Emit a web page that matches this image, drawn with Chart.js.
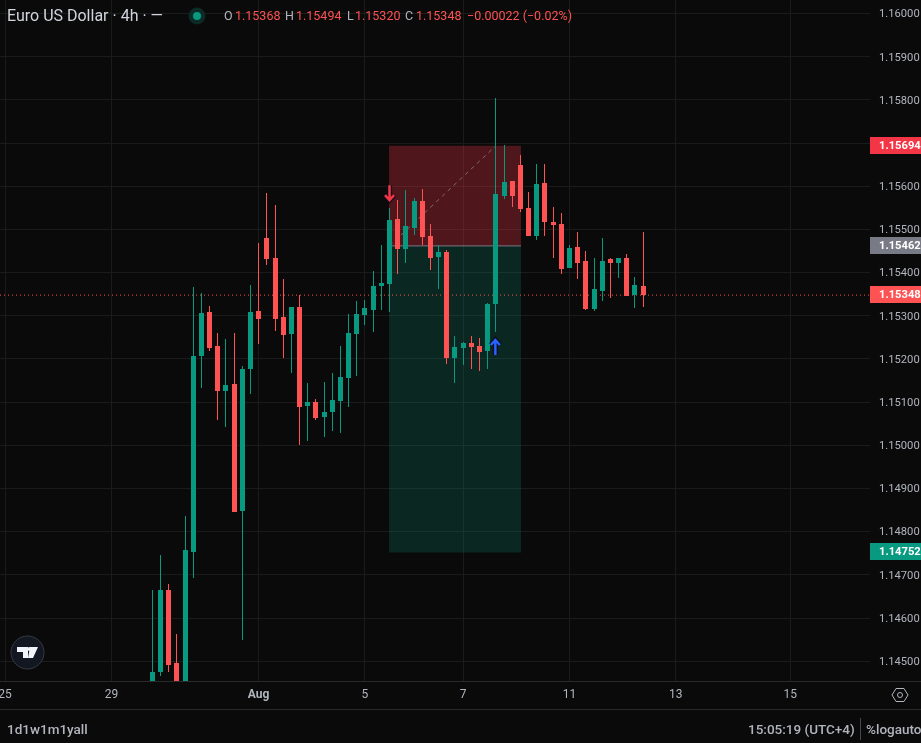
<!DOCTYPE html>
<html>
<head>
<meta charset="utf-8">
<title>Euro US Dollar 4h</title>
<script src="https://cdn.jsdelivr.net/npm/chart.js@4/dist/chart.umd.min.js"></script>
<style>
  html, body { margin: 0; padding: 0; background: #0a0a0a; overflow: hidden; }
  #wrap { position: relative; width: 921px; height: 743px; overflow: hidden; font-family: Roboto, "Noto Sans", sans-serif; }
  canvas { position: absolute; left: 0; top: 0; }
  .txt { position: absolute; white-space: nowrap; line-height: 16px; }
  .title { font-size: 16px; color: #d1d4dc; top: 8px; }
  .ohlc { font-size: 12.5px; top: 8px; }
  .k { color: #b2b5be; }
  .v { color: #ff5252; }
  .foot { font-size: 13.5px; font-weight: 500; color: #b2b5be; top: 721px; }
  .line { position: absolute; left: 0; width: 921px; height: 1px; background: #2a2a2a; }
  svg { position: absolute; }
</style>
</head>
<body>
<div id="wrap">
  <canvas id="chart" width="921" height="743"></canvas>
  <div class="line" style="top:681px"></div>
  <div class="line" style="top:709px"></div>

  <span class="txt title" style="left:7px">Euro US Dollar · 4h · —</span>
  <svg style="left:187px;top:6px" width="20" height="20">
    <circle cx="10" cy="10" r="8.5" fill="#0c2a26"></circle>
    <circle cx="10" cy="10" r="4" fill="#089981"></circle>
  </svg>
  <span class="txt ohlc k" style="left:224px">O</span><span class="txt ohlc v" style="left:235px">1.15368</span>
  <span class="txt ohlc k" style="left:285px">H</span><span class="txt ohlc v" style="left:296px">1.15494</span>
  <span class="txt ohlc k" style="left:347px">L</span><span class="txt ohlc v" style="left:355px">1.15320</span>
  <span class="txt ohlc k" style="left:405px">C</span><span class="txt ohlc v" style="left:416px">1.15348</span>
  <span class="txt ohlc v" style="left:467px">−0.00022 (−0.02%)</span>

  <svg style="left:10px;top:635px" width="36" height="36" viewBox="0 0 36 36">
    <circle cx="17.5" cy="17.5" r="16.5" fill="#131722" stroke="#363a45"></circle>
    <path d="M7 12h11v11h-5v-6H7zM20 12h8l-5 11h-5z" fill="#f0f3fa"></path>
    <circle cx="19.5" cy="14" r="2" fill="#f0f3fa"></circle>
  </svg>

  <svg style="left:890px;top:685px" width="20" height="20" viewBox="0 0 20 20">
    <path d="M6 3.5h8l4 6.5-4 6.5H6L2 10z" fill="none" stroke="#b2b5be" stroke-width="1"></path>
    <circle cx="10" cy="10" r="2.5" fill="none" stroke="#b2b5be" stroke-width="1"></circle>
  </svg>

  <span class="txt foot" style="left:7px">1d1w1m1yall</span>
  <span class="txt foot" style="left:748px">15:05:19 (UTC+4)</span>
  <div style="position:absolute;left:860px;top:718px;width:1px;height:22px;background:#434651"></div>
  <span class="txt foot" style="left:866px">%logauto</span>
</div>

<script>
// 4h candles (first visible candle is bar 0)
var opens  = [1.14433,1.14475,1.14665,1.14496,1.14433,1.14753,1.15207,1.15309,1.15230,1.15126,
              1.15142,1.14848,1.15177,1.15311,1.15480,1.15434,1.15297,1.15258,1.15320,1.15091,
              1.15100,1.15066,1.15077,1.15103,1.15156,1.15258,1.15302,1.15313,1.15369,1.15374,
              1.15524,1.15455,1.15503,1.15566,1.15485,1.15436,1.15448,1.15202,1.15225,1.15237,
              1.15230,1.15218,1.15327,1.15578,1.15612,1.15649,1.15550,1.15485,1.15608,1.15517,
              1.15513,1.15411,1.15459,1.15427,1.15316,1.15357,1.15432,1.15422,1.15434,1.15348,1.15368];
var highs  = [1.14665,1.14746,1.14679,1.14563,1.14836,1.15367,1.15353,1.15323,1.15260,1.15246,
              1.15260,1.15184,1.15371,1.15469,1.15584,1.15557,1.15385,1.15320,1.15348,1.15144,
              1.15107,1.15147,1.15168,1.15230,1.15304,1.15334,1.15337,1.15404,1.15464,1.15550,
              1.15568,1.15591,1.15573,1.15594,1.15513,1.15464,1.15452,1.15253,1.15239,1.15253,
              1.15249,1.15330,1.15805,1.15696,1.15612,1.15672,1.15587,1.15652,1.15652,1.15552,
              1.15538,1.15464,1.15494,1.15450,1.15434,1.15480,1.15434,1.15434,1.15443,1.15390,1.15494];
var lows   = [1.14410,1.14466,1.14475,1.14410,1.14410,1.14693,1.15133,1.15218,1.15059,1.15042,
              1.14846,1.14549,1.15119,1.15235,1.15418,1.15265,1.15202,1.15168,1.15001,1.15010,
              1.15059,1.15019,1.15033,1.15029,1.15089,1.15161,1.15279,1.15262,1.15313,1.15309,
              1.15397,1.15422,1.15487,1.15464,1.15406,1.15362,1.15188,1.15144,1.15186,1.15177,
              1.15172,1.15177,1.15262,1.15571,1.15552,1.15540,1.15485,1.15476,1.15485,1.15434,
              1.15397,1.15411,1.15385,1.15313,1.15311,1.15334,1.15341,1.15388,1.15346,1.15318,1.15320];
var closes = [1.14475,1.14665,1.14491,1.14433,1.14758,1.15207,1.15306,1.15225,1.15126,1.15140,
              1.14846,1.15177,1.15309,1.15293,1.15432,1.15293,1.15256,1.15320,1.15089,1.15100,
              1.15063,1.15077,1.15105,1.15158,1.15260,1.15304,1.15318,1.15369,1.15376,1.15522,
              1.15455,1.15508,1.15566,1.15483,1.15434,1.15448,1.15202,1.15228,1.15237,1.15228,
              1.15216,1.15327,1.15582,1.15610,1.15578,1.15547,1.15485,1.15605,1.15517,1.15510,
              1.15408,1.15457,1.15422,1.15316,1.15362,1.15427,1.15422,1.15434,1.15346,1.15371,1.15348];

// axis ticks
var dateTicks = [-18, -5, 13, 26, 38, 51, 64, 78];
var dateLabels = ["25", "29", "Aug", "5", "7", "11", "13", "15"];
var priceTicks = [1.145, 1.146, 1.147, 1.148, 1.149, 1.150, 1.151, 1.152, 1.153, 1.154, 1.155, 1.156, 1.157, 1.158, 1.159, 1.160];
var xMin = -18.62, xMax = 87.74;
var yMin = 1.144541, yMax = 1.160316;

// short position drawing
var stopPrice = 1.15694, entryPrice = 1.15462, targetPrice = 1.14752;
var posFromBar = 28.94, posToBar = 45.07;
var lastPrice = 1.15348;
var tradeLineBars = [29, 42];
var tradeLinePrices = [1.15462, 1.15694];
// signal arrows: [bar, tip price]
var sellArrow = [29, 1.15568];
var buyArrow = [42, 1.15244];

var UP = "#089981", DOWN = "#ff5252", GRID = "#1b1b1b";

var priceTags = [
  { price: stopPrice, color: "#f23645" },
  { price: entryPrice, color: "#787b86" },
  { price: lastPrice, color: "#ff5252" },
  { price: targetPrice, color: "#089981" }
];

var wicks = [], bodies = [], candleColors = [];
for (var i = 0; i < opens.length; i++) {
  wicks.push({ x: i, y: [lows[i], highs[i]] });
  bodies.push({ x: i, y: [opens[i], closes[i]] });
  candleColors.push(closes[i] >= opens[i] ? UP : DOWN);
}

function flatLine(fromX, toX, price) {
  return [{ x: fromX, y: price }, { x: toX, y: price }];
}

// chart.js reserves room for half a tick label, we want the plot to touch the edges
function noAxisPadding(scale) {
  scale.paddingLeft = 0;
  scale.paddingRight = 0;
  scale.paddingTop = 0;
  scale.paddingBottom = 0;
}

// snap bars to whole pixels so the candles stay crisp
var snapBars = {
  id: "snapBars",
  afterDatasetsUpdate: function(chart) {
    chart.data.datasets.forEach(function(ds, n) {
      if (ds.type !== "bar") return;
      chart.getDatasetMeta(n).data.forEach(function(el) {
        el.x = Math.floor(el.x) + 0.5;
        el.y = Math.round(el.y);
        el.base = Math.round(el.base);
      });
    });
  }
};

function drawArrow(ctx, x, tipY, dir, color) {
  // dir -1 points up, 1 points down
  var tailY = tipY - dir * 15;
  function path() {
    ctx.beginPath();
    ctx.moveTo(x, tailY);
    ctx.lineTo(x, tipY);
    ctx.moveTo(x - 4.5, tipY - dir * 5);
    ctx.lineTo(x, tipY);
    ctx.lineTo(x + 4.5, tipY - dir * 5);
    ctx.stroke();
  }
  ctx.strokeStyle = "rgba(10,10,30,0.85)";
  ctx.lineWidth = 5;
  path();
  ctx.strokeStyle = color;
  ctx.lineWidth = 2.5;
  path();
}

var overlays = {
  id: "overlays",
  afterDraw: function(chart) {
    var ctx = chart.ctx, x = chart.scales.x, y = chart.scales.y;
    ctx.save();
    drawArrow(ctx, x.getPixelForValue(sellArrow[0]), y.getPixelForValue(sellArrow[1]), 1, "#f23645");
    drawArrow(ctx, x.getPixelForValue(buyArrow[0]) - 0.5, y.getPixelForValue(buyArrow[1]), -1, "#2962ff");

    // price tags on the axis
    ctx.font = "bold 11.2px Roboto";
    ctx.textBaseline = "middle";
    ctx.textAlign = "left";
    priceTags.forEach(function(tag) {
      var py = Math.round(y.getPixelForValue(tag.price));
      ctx.fillStyle = tag.color;
      ctx.fillRect(x.right, py - 9, chart.width - x.right, 17);
      ctx.fillStyle = "#ffffff";
      ctx.fillText(tag.price.toFixed(5), x.right + 9, py);
    });
    ctx.restore();
  }
};

new Chart(document.getElementById("chart").getContext("2d"), {
  data: {
    datasets: [
      { type: "line", data: flatLine(posFromBar, posToBar, stopPrice), fill: { value: entryPrice },
        backgroundColor: "rgba(242,54,69,0.3)", borderWidth: 0, pointRadius: 0, order: 6 },
      { type: "line", data: flatLine(posFromBar, posToBar, targetPrice), fill: { value: entryPrice },
        backgroundColor: "rgba(8,153,129,0.2)", borderWidth: 0, pointRadius: 0, order: 6 },
      { type: "line", data: flatLine(posFromBar, posToBar, entryPrice), borderColor: "#787b86",
        borderWidth: 1, pointRadius: 0, order: 5 },
      { type: "line", data: tradeLineBars.map(function(b, n) { return { x: b, y: tradeLinePrices[n] }; }),
        borderColor: "rgba(170,170,180,0.55)", borderWidth: 1, borderDash: [4, 4], pointRadius: 0, order: 4 },
      { type: "line", data: flatLine(xMin, xMax, lastPrice), borderColor: DOWN,
        borderWidth: 1, borderDash: [1, 3], pointRadius: 0, order: 3 },
      { type: "bar", data: wicks, backgroundColor: candleColors, barThickness: 1, inflateAmount: 0, grouped: false, order: 2 },
      { type: "bar", data: bodies, backgroundColor: candleColors, barThickness: 5, inflateAmount: 0, grouped: false, order: 1 }
    ]
  },
  options: {
    responsive: false,
    animation: false,
    events: [],
    layout: { padding: { left: 0, right: 0, top: 0, bottom: 34 } },
    plugins: { legend: { display: false }, tooltip: { enabled: false } },
    scales: {
      x: {
        type: "linear",
        offset: false,
        min: xMin,
        max: xMax,
        afterBuildTicks: function(scale) {
          scale.ticks = dateTicks.map(function(v) { return { value: v }; });
        },
        afterFit: function(scale) { scale.height = 28; noAxisPadding(scale); },
        border: { display: false },
        grid: { color: GRID, drawTicks: false, offset: false },
        ticks: {
          autoSkip: false,
          maxRotation: 0,
          padding: 7,
          color: "#b2b5be",
          font: function(ctx) {
            return { family: "Roboto", size: 12, weight: ctx.tick && ctx.tick.value === 13 ? "bold" : "normal" };
          },
          callback: function(v) { return dateLabels[dateTicks.indexOf(v)]; }
        }
      },
      y: {
        type: "linear",
        position: "right",
        min: yMin,
        max: yMax,
        afterBuildTicks: function(scale) {
          scale.ticks = priceTicks.map(function(v) { return { value: v }; });
        },
        afterFit: function(scale) { scale.width = 51; noAxisPadding(scale); },
        border: { display: false },
        grid: { color: GRID, drawTicks: false },
        ticks: {
          autoSkip: false,
          padding: 9,
          labelOffset: 1,
          color: "#b2b5be",
          font: { family: "Roboto", size: 11.2 },
          callback: function(v) { return v.toFixed(5); }
        }
      }
    }
  },
  plugins: [snapBars, overlays]
});
</script>
</body>
</html>
